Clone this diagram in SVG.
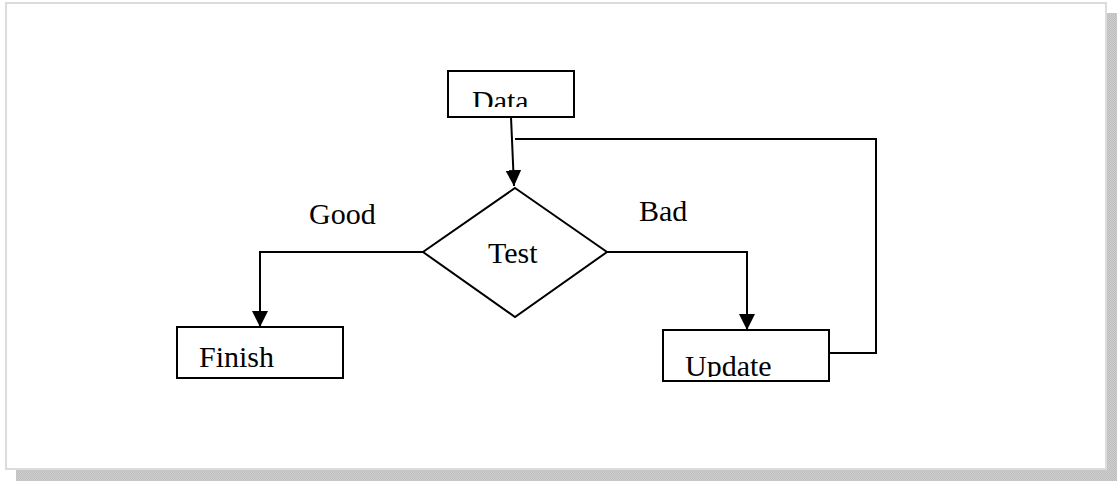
<svg xmlns="http://www.w3.org/2000/svg" width="1117" height="481" viewBox="0 0 1117 481">
<style>
.box{fill:#fff;stroke:#000;stroke-width:2}
.ln{fill:none;stroke:#000;stroke-width:2}
.t{font-family:"Liberation Serif","Times New Roman",serif;font-size:30px;fill:#000}
</style>
<defs>
<pattern id="chk" width="2" height="2" patternUnits="userSpaceOnUse">
<rect width="2" height="2" fill="#cfcfcf"/>
<rect width="1" height="1" fill="#bdbdbd"/>
<rect x="1" y="1" width="1" height="1" fill="#bdbdbd"/>
</pattern>
<marker id="ah" markerWidth="17" markerHeight="17" refX="16" refY="8" orient="auto" markerUnits="userSpaceOnUse">
<path d="M0,0 L16,8 L0,16 Z" fill="#000"/>
</marker>
<clipPath id="cData"><rect x="449" y="72" width="124" height="35"/></clipPath>
<clipPath id="cUpd"><rect x="664" y="331" width="164" height="46"/></clipPath>
</defs>
<rect width="1117" height="481" fill="#fff"/>
<rect x="16" y="13" width="1101" height="468" fill="url(#chk)"/>
<rect x="6" y="3" width="1100" height="466" fill="#fff" stroke="#dcdcdc" stroke-width="2"/>
<g id="connectors">
<path class="ln" d="M511,117 L514,186" stroke-width="3" marker-end="url(#ah)"/>
<path class="ln" d="M829,353 L876,353 L876,139 L515,139"/>
<path class="ln" d="M423,252 L260,252 L260,327" marker-end="url(#ah)"/>
<path class="ln" d="M607,252 L747,252 L747,330" marker-end="url(#ah)"/>
</g>
<g id="data">
<rect class="box" x="448" y="71" width="126" height="46"/>
<text class="t" x="472" y="111" clip-path="url(#cData)">Data</text>
</g>
<g id="test">
<polygon class="box" points="515,188 607,252 515,317 423,252"/>
<text class="t" x="488" y="263">Test</text>
</g>
<g id="finish">
<rect class="box" x="177" y="327" width="166" height="51"/>
<text class="t" x="199" y="367">Finish</text>
</g>
<g id="update">
<rect class="box" x="663" y="330" width="166" height="51"/>
<text class="t" x="685" y="376" clip-path="url(#cUpd)">Update</text>
</g>
<g id="labels">
<text class="t" x="309" y="224">Good</text>
<text class="t" x="639" y="221">Bad</text>
</g>
</svg>
